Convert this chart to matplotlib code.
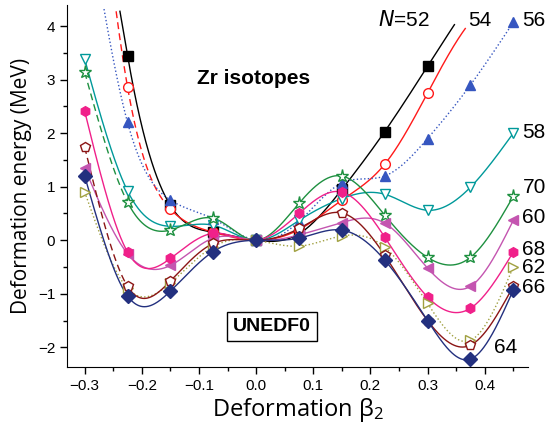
import numpy as np
import matplotlib
matplotlib.use("Agg")
import matplotlib.pyplot as plt

plt.rcParams['font.family'] = ['Liberation Sans', 'DejaVu Sans']

# deformation grid (beta_2)
beta = [-0.3, -0.225, -0.15, -0.075, 0.0, 0.075, 0.15, 0.225, 0.3, 0.375, 0.45]
nan = np.nan

# deformation energies (MeV) for each neutron number N
e52 = [nan, 3.45, 0.65, 0.15, 0.0, 0.12, 0.95, 2.03, 3.25, nan, nan]
e54 = [9.5, 2.86, 0.58, 0.15, 0.0, 0.20, 0.75, 1.42, 2.75, nan, nan]
e56 = [6.5, 2.20, 0.75, 0.40, 0.0, 0.35, 1.07, 1.20, 1.90, 2.90, 4.07]
e58 = [3.38, 0.92, 0.26, 0.28, 0.0, 0.37, 0.78, 0.86, 0.56, 0.99, 2.00]
e70 = [3.14, 0.71, 0.19, 0.41, 0.0, 0.69, 1.20, 0.47, -0.32, -0.32, 0.82]
e60 = [1.35, -0.25, -0.47, 0.04, 0.0, 0.10, 0.33, 0.32, -0.52, -0.86, 0.37]
e68 = [2.41, -0.22, -0.34, 0.13, 0.0, 0.50, 0.90, 0.06, -1.06, -1.27, -0.22]
e62 = [0.90, -0.90, -0.80, -0.12, 0.0, -0.11, 0.08, -0.13, -1.18, -1.87, -0.50]
e66 = [1.74, -0.86, -0.76, -0.06, 0.0, 0.22, 0.51, -0.28, -1.50, -1.96, -0.86]
e64 = [1.20, -1.04, -0.95, -0.21, 0.0, 0.04, 0.19, -0.37, -1.50, -2.22, -0.93]

labels = ['52', '54', '56', '58', '70', '60', '68', '62', '66', '64']
energies = [e52, e54, e56, e58, e70, e60, e68, e62, e66, e64]

# style per series: color, marker, filled, linestyle, dashed-below beta
styles = {
    '52': ('black', 's', True, '-', None),
    '54': ('#ff1a1a', 'o', False, '-', -0.15),
    '56': ('#3656c0', '^', True, ':', None),
    '58': ('#00999a', 'v', False, '-', None),
    '70': ('#1e9040', '*', False, '-', -0.225),
    '60': ('#c455b0', '<', True, '-', None),
    '68': ('#f0208a', 'h', True, '-', None),
    '62': ('#a0a040', '>', False, ':', None),
    '66': ('#8b1515', 'p', False, '-', -0.225),
    '64': ('#23307f', 'D', True, '-', None),
}
# curve drawn beyond the last markers: (left beta, left end slope, right beta)
curve_ext = {'52': (-0.245, -62.0, 0.347), '54': (None, None, 0.366)}

# label positions (beta, energy) for the N labels
label_pos = {
    '52': (0.259, 4.11), '54': (0.392, 4.11), '56': (0.466, 4.11),
    '58': (0.466, 2.02), '70': (0.466, 0.99), '60': (0.466, 0.43),
    '68': (0.466, -0.17), '62': (0.466, -0.50), '66': (0.466, -0.88),
    '64': (0.436, -2.0),
}


def cubic_spline(x, y, xs, slope0=None):
    # natural cubic spline; clamped at the left end if slope0 is given
    x = np.asarray(x, float)
    y = np.asarray(y, float)
    n = len(x)
    h = np.diff(x)
    A = np.zeros((n, n))
    r = np.zeros(n)
    if slope0 is None:
        A[0, 0] = 1
    else:
        A[0, 0] = 2 * h[0]
        A[0, 1] = h[0]
        r[0] = 6 * ((y[1] - y[0]) / h[0] - slope0)
    A[-1, -1] = 1
    for i in range(1, n - 1):
        A[i, i - 1] = h[i - 1]
        A[i, i] = 2 * (h[i - 1] + h[i])
        A[i, i + 1] = h[i]
        r[i] = 6 * ((y[i + 1] - y[i]) / h[i] - (y[i] - y[i - 1]) / h[i - 1])
    M = np.linalg.solve(A, r)
    idx = np.clip(np.searchsorted(x, xs) - 1, 0, n - 2)
    x0, x1 = x[idx], x[idx + 1]
    hh = x1 - x0
    a = (x1 - xs) / hh
    b = (xs - x0) / hh
    out = (a * y[idx] + b * y[idx + 1]
           + ((a ** 3 - a) * M[idx] + (b ** 3 - b) * M[idx + 1]) * hh ** 2 / 6)
    if slope0 is not None:
        left = xs < x[0]
        out[left] = y[0] + slope0 * (xs[left] - x[0])
    return out


fig = plt.figure(figsize=(5.49, 4.34), dpi=100)
ax = fig.add_axes([0.122, 0.154, 0.840, 0.834])

bx = np.array(beta)
for lab, ev in zip(labels, energies):
    col, mk, filled, ls, dash_to = styles[lab]
    ev = np.array(ev)
    ok = ~np.isnan(ev)
    xd, yd = bx[ok], ev[ok]
    lo_ext, s0, hi_ext = curve_ext.get(lab, (None, None, None))
    lo = lo_ext if lo_ext is not None else xd[0]
    hi = hi_ext if hi_ext is not None else xd[-1]
    xs = np.linspace(lo, hi, 800)
    ys = cubic_spline(xd, yd, xs, s0)
    ys[ys > 4.32] = np.nan
    if dash_to is not None:
        m = xs <= dash_to
        ax.plot(xs[m], ys[m], color=col, lw=1.0, ls=(0, (5, 3)))
        ax.plot(xs[xs >= dash_to], ys[xs >= dash_to], color=col, lw=1.0, ls='-')
    else:
        ax.plot(xs, ys, color=col, lw=1.0, ls=ls)
    ms = 9.5 if mk == '*' else 7
    ax.plot(xd, yd, ls='none', marker=mk, ms=ms, mec=col,
            mfc=col if filled else 'white', mew=1.0, zorder=3)
    tx, ty = label_pos[lab]
    txt = r'$\it{N}$=52' if lab == '52' else lab
    ax.text(tx, ty, txt, fontsize=15, va='center',
            ha='left' if lab not in ('52', '54', '64') else 'center')

ax.text(-0.005, 3.03, 'Zr isotopes', fontsize=15, fontweight='bold', ha='center', va='center')
ax.text(0.028, -1.61, 'UNEDF0', fontsize=14, fontweight='bold', ha='center', va='center',
        bbox=dict(boxstyle='square,pad=0.3', fc='white', ec='black', lw=1.0))

ax.set_xlim(-0.331, 0.476)
ax.set_ylim(-2.37, 4.39)
ax.set_xticks([-0.3, -0.2, -0.1, 0.0, 0.1, 0.2, 0.3, 0.4])
ax.set_xticks(np.arange(-0.3, 0.46, 0.05), minor=True)
ax.set_yticks([-2, -1, 0, 1, 2, 3, 4])
ax.set_yticks(np.arange(-2, 4.3, 0.5), minor=True)
ax.tick_params(direction='out', labelsize=11, length=5, width=1)
ax.tick_params(which='minor', direction='out', length=3, width=1)
ax.spines['top'].set_visible(False)
ax.spines['right'].set_visible(False)
ax.set_xlabel(r'Deformation $\mathregular{\beta_2}$', fontsize=17, family='Open Sans', labelpad=2)
ax.set_ylabel('Deformation energy (MeV)', fontsize=15, family='Open Sans')

fig.savefig('out.png', dpi=100)
